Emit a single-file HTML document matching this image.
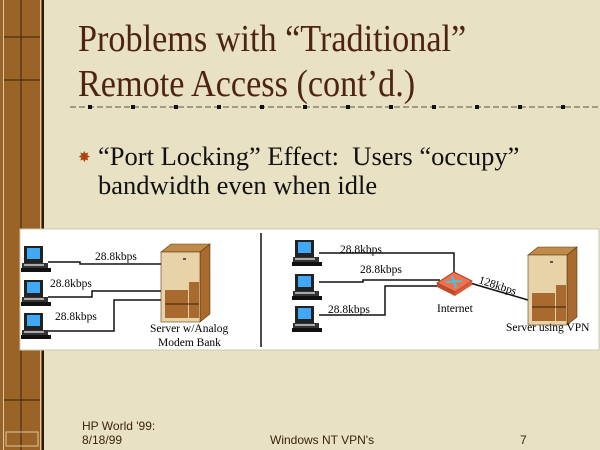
<!DOCTYPE html>
<html><head><meta charset="utf-8"><style>
html,body{margin:0;padding:0}
body{width:600px;height:450px;position:relative;overflow:hidden;background:#e9e1c3;font-family:"Liberation Serif",serif}
.strip{position:absolute;left:0;top:0;width:44px;height:450px;background:#9a6428;border-right:2px solid #2a1a08;box-sizing:border-box}
.strip:before{content:"";position:absolute;left:3px;top:0;width:36px;height:450px;border-left:1px solid #d8c9a0;border-right:1px solid #d8c9a0}
.t{position:absolute;left:78px;color:#4e2410;font-size:38px;line-height:1;white-space:nowrap;transform:scaleX(0.9);transform-origin:0 0}
.b{position:absolute;left:98px;color:#111;font-size:26px;line-height:1;white-space:nowrap;transform:scaleX(1.02);transform-origin:0 0}
.f{position:absolute;font-family:"Liberation Sans",sans-serif;font-size:12px;color:#3a2410;line-height:14px}
</style></head><body>
<div class="strip"></div>
<svg style="position:absolute;left:0;top:0" width="44" height="450">
<line x1="21" y1="0" x2="21" y2="450" stroke="#3a2208" stroke-width="1"/>
<line x1="4" y1="37" x2="40" y2="37" stroke="#3a2208"/>
<line x1="4" y1="80" x2="40" y2="80" stroke="#3a2208"/>
<line x1="4" y1="400" x2="40" y2="400" stroke="#3a2208"/>
<rect x="6" y="432" width="32" height="14" fill="none" stroke="#d8c9a0"/>
</svg>
<div class="t" style="top:20px">Problems with “Traditional”</div>
<div class="t" style="top:65px">Remote Access (cont’d.)</div>
<svg style="position:absolute;left:70px;top:103px" width="530" height="8">
<line x1="0" y1="4" x2="530" y2="4" stroke="#8a8270" stroke-width="1.5" stroke-dasharray="6,3"/>
<g fill="#111"><rect x="18" y="2" width="4" height="4"/><rect x="61" y="2" width="4" height="4"/><rect x="104" y="2" width="4" height="4"/><rect x="147" y="2" width="4" height="4"/><rect x="190" y="2" width="4" height="4"/><rect x="233" y="2" width="4" height="4"/><rect x="276" y="2" width="4" height="4"/><rect x="319" y="2" width="4" height="4"/><rect x="362" y="2" width="4" height="4"/><rect x="405" y="2" width="4" height="4"/><rect x="448" y="2" width="4" height="4"/><rect x="491" y="2" width="4" height="4"/></g>
</svg>
<div style="position:absolute;left:78px;top:148px;color:#b04010;font-size:15px">✸</div>
<div class="b" style="top:144px">“Port Locking” Effect:&nbsp; Users “occupy”</div>
<div class="b" style="top:173px;left:98px">bandwidth even when idle</div>

<svg style="position:absolute;left:0;top:0" width="600" height="450" font-family="Liberation Serif,serif" font-size="11.5">
<rect x="20" y="229" width="579" height="121" fill="#fff" stroke="#cfc8b0"/>
<line x1="261" y1="233" x2="261" y2="347" stroke="#111" stroke-width="1.5"/>
<defs>
<g id="pc"><rect x="3" y="0" width="19" height="17" fill="#222"/><rect x="6" y="2" width="13" height="11" fill="#3fa9f5"/><rect x="1" y="17" width="26" height="5" fill="#333"/><rect x="3" y="18" width="20" height="2" fill="#aaa"/><rect x="0" y="22" width="30" height="4" fill="#111"/></g>
<g id="srv"><polygon points="0,8 10,0 49,0 39,8" fill="#c08a48" stroke="#5a3a10" stroke-width="0.6"/><polygon points="39,8 49,0 49,70 39,78" fill="#a86a2e" stroke="#5a3a10" stroke-width="0.6"/><rect x="0" y="8" width="39" height="70" fill="#e8d2a8" stroke="#5a3a10" stroke-width="0.6"/><rect x="4" y="46" width="23" height="28" fill="#a86a2e"/><rect x="28" y="38" width="10" height="36" fill="#a86a2e"/><line x1="4" y1="60" x2="38" y2="60" stroke="#3a2208"/><rect x="22" y="14" width="3" height="2" fill="#555"/></g>
</defs>
<use href="#pc" x="21" y="246"/><use href="#pc" x="21" y="280"/><use href="#pc" x="21" y="313"/>
<g fill="none" stroke="#111" stroke-width="1.5">
<polyline points="48,262 80,262 80,264 161,264"/>
<polyline points="48,297 92,297 92,291 161,291"/>
<polyline points="48,331 114,331 114,300 161,300"/>
</g>
<use href="#srv" x="161" y="244"/>
<text x="95" y="260">28.8kbps</text>
<text x="50" y="287">28.8kbps</text>
<text x="55" y="320">28.8kbps</text>
<text x="150" y="332">Server w/Analog</text>
<text x="158" y="346">Modem Bank</text>

<use href="#pc" x="292" y="240"/><use href="#pc" x="292" y="274"/><use href="#pc" x="292" y="306"/>
<g fill="none" stroke="#111" stroke-width="1.5">
<polyline points="319,253 454,253 454,275"/>
<polyline points="319,282 363,282 363,280 440,280"/>
<polyline points="319,315 385,315 385,286 440,286"/>
<line x1="470" y1="283" x2="528" y2="300"/>
</g>
<polygon points="437,283 454,272 472,281 455,292" fill="#f07050" stroke="#a04020"/>
<polygon points="437,283 455,292 455,296 437,287" fill="#c04a2a"/>
<polygon points="455,292 472,281 472,285 455,296" fill="#d85a38"/>
<path d="M446,282 L462,281 M452,276 L456,288" stroke="#40c8e0" stroke-width="2"/>
<use href="#srv" x="528" y="247"/>
<text x="340" y="253">28.8kbps</text>
<text x="360" y="273">28.8kbps</text>
<text x="328" y="313">28.8kbps</text>
<text x="478" y="283" transform="rotate(18 478 283)">128kbps</text>
<text x="437" y="312">Internet</text>
<text x="506" y="331">Server using VPN</text>
</svg>
<div class="f" style="left:82px;top:419px">HP World '99:<br>8/18/99</div>
<div class="f" style="left:270px;top:433px">Windows NT VPN's</div>
<div class="f" style="left:520px;top:433px">7</div>
</body></html>
